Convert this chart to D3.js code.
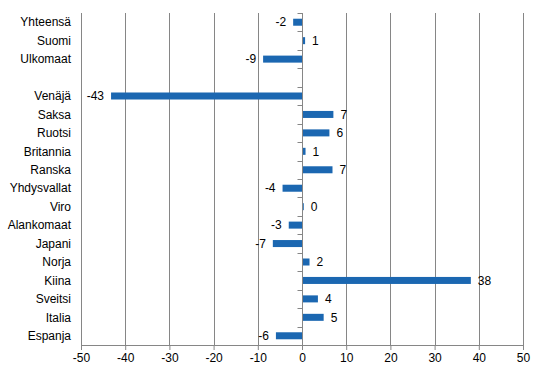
<!DOCTYPE html>
<html>
<head>
<meta charset="utf-8">
<script src="https://cdn.jsdelivr.net/npm/d3@7"></script>
<style>
  body { margin: 0; background: #fff; }
  text { font-family: "Liberation Sans", Arial, sans-serif; font-size: 12px; fill: #000; }
</style>
</head>
<body>
<div id="chart"></div>
<script>
// categories, top to bottom ("" = empty row)
const categories = ["Yhteensä", "Suomi", "Ulkomaat", "", "Venäjä", "Saksa", "Ruotsi", "Britannia",
  "Ranska", "Yhdysvallat", "Viro", "Alankomaat", "Japani", "Norja", "Kiina", "Sveitsi", "Italia", "Espanja"];
const values = [-2.0, 0.7, -8.8, null, -43.2, 7.1, 6.2, 0.8,
  6.9, -4.4, 0.4, -3.0, -6.6, 1.7, 38.2, 3.6, 4.9, -5.9];
const xTicks = [-50, -40, -30, -20, -10, 0, 10, 20, 30, 40, 50];

const svgWidth = 544, svgHeight = 374;
const margin = { top: 13, right: 21, bottom: 29, left: 81 };
const width = svgWidth - margin.left - margin.right;
const height = svgHeight - margin.top - margin.bottom;

const data = categories.map((c, i) => ({ key: c === "" ? "_gap" : c, name: c, value: values[i] }));

const svg = d3.select("#chart").append("svg")
  .attr("width", svgWidth)
  .attr("height", svgHeight);

const chart = svg.append("g")
  .attr("transform", `translate(${margin.left},${margin.top})`);

const x = d3.scaleLinear().domain([-50, 50]).range([0, width]);
const y = d3.scaleBand().domain(data.map(d => d.key)).range([0, height]).paddingInner(0.62).paddingOuter(0.31);

const gray = "#868686";

// vertical gridlines
chart.selectAll(".grid")
  .data(xTicks)
  .join("line")
  .attr("x1", d => Math.round(x(d)) + 0.5)
  .attr("x2", d => Math.round(x(d)) + 0.5)
  .attr("y1", 0)
  .attr("y2", height)
  .attr("stroke", gray)
  .attr("stroke-width", 1);

// bottom axis
const xAxis = chart.append("g")
  .attr("transform", `translate(0,${height})`)
  .call(d3.axisBottom(x).tickValues(xTicks).tickFormat(d => String(d))
    .tickSize(5).tickPadding(3).tickSizeOuter(0));
xAxis.select(".domain").attr("stroke", gray);
xAxis.selectAll(".tick line").attr("stroke", gray);
xAxis.selectAll(".tick text").attr("font-size", null).attr("font-family", null);

// bars
chart.selectAll(".bar")
  .data(data.filter(d => d.value !== null))
  .join("rect")
  .attr("x", d => x(Math.min(0, d.value)))
  .attr("y", d => y(d.key))
  .attr("width", d => Math.abs(x(d.value) - x(0)))
  .attr("height", y.bandwidth())
  .attr("fill", "#1b67b1");

// zero axis with band ticks
const zx = Math.round(x(0)) + 0.5;
chart.append("line")
  .attr("x1", zx).attr("x2", zx)
  .attr("y1", 0).attr("y2", height)
  .attr("stroke", gray);
chart.selectAll(".ytick")
  .data(d3.range(categories.length + 1))
  .join("line")
  .attr("x1", zx - 5).attr("x2", zx)
  .attr("y1", i => Math.round(i * height / categories.length) + 0.5)
  .attr("y2", i => Math.round(i * height / categories.length) + 0.5)
  .attr("stroke", gray);

// category labels
chart.selectAll(".cat")
  .data(data.filter(d => d.name !== ""))
  .join("text")
  .attr("x", -10)
  .attr("y", d => y(d.key) + y.bandwidth() / 2)
  .attr("dy", "0.35em")
  .attr("text-anchor", "end")
  .text(d => d.name);

// value labels
chart.selectAll(".val")
  .data(data.filter(d => d.value !== null))
  .join("text")
  .attr("x", d => d.value < 0 ? x(d.value) - 7 : x(d.value) + 7)
  .attr("y", d => y(d.key) + y.bandwidth() / 2)
  .attr("dy", "0.35em")
  .attr("text-anchor", d => d.value < 0 ? "end" : "start")
  .text(d => String(Math.round(d.value)));
</script>
</body>
</html>
